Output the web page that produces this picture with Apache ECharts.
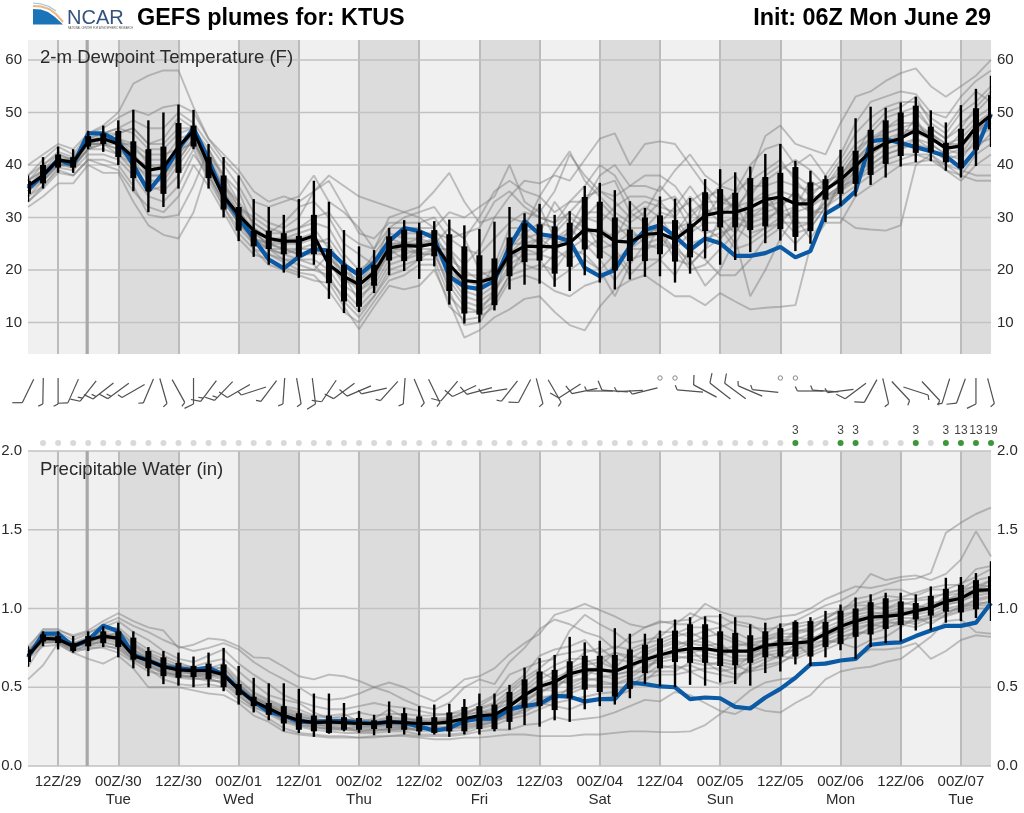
<!DOCTYPE html>
<html><head><meta charset="utf-8"><style>html,body{margin:0;padding:0;background:#fff}#c{width:1024px;height:813px}</style>
<script src="https://cdn.jsdelivr.net/npm/echarts@6/dist/echarts.min.js"></script></head>
<body><div id="c"></div><script>
const tickLabels=['12Z/29','00Z/30\nTue','12Z/30','00Z/01\nWed','12Z/01','00Z/02\nThu','12Z/02','00Z/03\nFri','12Z/03','00Z/04\nSat','12Z/04','00Z/05\nSun','12Z/05','00Z/06\nMon','12Z/06','00Z/07\nTue'];
const dpTicks=[10,20,30,40,50,60];
const pwTicks=[0,0.5,1,1.5,2];
const nightBands=[[6,10],[14,18],[22,26],[30,34],[38,42],[46,50],[54,58],[62,64]];
const initIndex=4;

const dpMedian=[36,38,41,40.5,44.5,45,44,41.5,
39,39.5,43.5,46.5,40,34,30.5,27.5,
26,25.5,25.5,26.5,21,18.8,17.2,19.5,
24.2,24.7,24.5,25,21,18,17.7,18.5,
23,24.5,24.5,24.4,25.2,27.7,27.4,25.5,
25.3,26.8,27,25.8,28,30.4,31,31,
31.9,33.4,33.9,32.6,32.6,35.3,37.2,39.8,
42.6,44.2,45.1,46.6,45.1,43.2,43.6,47.2,
49.5];
const dpControl=[35.5,38,41,40,46,46,44.5,40,
35,38.5,43,47,41,34,30,26,
22,20.3,22.5,24,23.7,21,19,21.4,
25.5,28,27.4,26.1,18.8,16.8,16.4,17.9,
24.5,29.3,26.8,26.4,25.5,20.4,18.8,20,
24.5,27.6,28.5,26.4,23.8,26,25.1,22.7,
22.7,23.2,24.4,22.4,23.6,30.7,32.4,35,
44.5,44.9,44.2,43.4,42.6,41.7,39.4,42.9,
49.7];
const dpHigh=[38,41.5,43.5,43,46.5,47.5,48.5,50.5,
48.5,50,51.5,50.5,44,41.5,38,33.5,
32,30.5,33.5,37,33,27.6,24.5,23.8,
28,29.5,29,29.3,29.6,28.5,27.8,29.2,
32,30.8,32.6,30.5,31.2,36,36.6,35.2,
33.1,31.8,34,33.6,33.7,37.3,39.2,38.6,
39.7,42.1,44,40.8,38.9,38,42.9,48.9,
51.1,50.9,51.9,53,50.4,48.1,51.4,54.5,
57];
const dpLow=[33,35.5,38.5,38.5,43,42.5,40,35,
31,32,35.5,43,35.5,30,25.5,22.5,
21,19.5,18.5,21,14.5,11.8,12,15.6,
19,19.8,18.3,20.7,13.4,9.8,10,12.3,
16.3,17.2,17.4,16.8,16,19,17.6,16.3,
18.2,18.7,18.8,17.6,19.3,22.2,21,21.9,
23.4,25.1,25.6,23.6,25,29.1,32.2,34,
36.2,37.6,39.7,40.5,40.7,38.9,37.6,39.8,
43.4];
const dpQ1=[34.5,36.5,39.5,39.5,43.5,44,41.5,37.5,
35,34.5,38.5,43.5,37.5,31.5,27.5,24.5,
24,23,22.5,23,17.5,14,13,17,
21.8,21.7,21.7,22.6,16,11.7,11.5,13.3,
18.8,21.5,21.8,19.3,20.6,23.9,22.2,19.9,
21.7,21.7,23,21.6,22.4,27.4,28.1,28.1,
27.6,28.3,27.8,26.3,27.4,33.4,34.5,36.4,
38.1,40.2,41.7,42.3,42.4,40.5,39.4,42.9,
46.8];
const dpQ3=[37,40,42,41.5,45.5,46,46.5,44.5,
43,43.5,48,47.5,41.5,38,32,27.5,
27.5,27,26.5,30.5,24,21,20.4,21,
26.4,27.7,27.4,27.6,26.8,24.5,22.8,22.2,
26.2,28.9,28.7,28.3,29,33.9,33,30,
27.7,30,30.4,29.5,28.8,34.8,35.4,34.7,
37.5,37.7,38.5,39.6,36.7,37.3,39.7,42.7,
46.7,48.5,50,51.3,47.3,44.2,46.9,50.8,
53.3];

const dpM1=[40,42,44,43,46,47.5,50,55.5,
57,58,58,51,45,42,39,35,
33,34,33,35,38,36,34,33,
32,31,32,35,38.5,33,29,30,
34,37,36.5,38,37,41,45,46,
40,44,44.5,44,40,36,33,34,
38,45.5,47.5,44,43,42,48,53,
54,56,57.5,58.4,55,53,55,57,
60];
const dpM2=[32,34,36.5,36.5,40,38.5,38.5,33,
28.5,26.7,26,31,40,36,33,24,
21,20,19,18,17.5,13,8.7,13,
17,16.3,17,20,14,7.1,8.5,11,
12.5,14.5,15,12,9.5,8.5,13,16.3,
18,19,17,15,15,13.3,15.6,14,
12.5,12.8,13,13.3,24.5,29,29,34,
36,38,40,40.5,41,39,38,37,
37];
const dpM3=[33,36,39,38,41,41,40,36,
30.5,30,30.5,36,43,38,35,28,
24,23,22,21,18,15,12,15,
19,20,22,24,16,9.5,10,14,
19,20,21,20,24,23,20,15,
21,25,26,24,22,17,20,26,
15,20,26,30,26,30,30,28,
27.7,27.5,28.5,40,42,40,39,38,
38];
const dpM4=[38,41,43.5,42,46,47,49,50.5,
49.5,51,51.5,50,45,41,38,33,
32,33,34,38,33,31,28,24,
30,31,30,28,31,30,32,34,
40,33,31,35,42,38,35,34,
36,36,35,39,42,38,36,35,
40,43,44,40,42,38,42,48,
52,53,54,53.5,50,49,53,56,
58];
const dpM5=[37,40,42.5,41.5,45,46,47,48.5,
47,47,50,48,44,40,36,31,
29,28,30,35,37,32,27,26,
29,29,29,30,26,27,28,33,
35,32,30,29,33,36,40,38,
33,30,33,34,30,33,36,38,
34,38,40,38,36,37,38,42,
47,50,51,53,48,46,50,52,
55];
const dpM6=[36,39,42,41,44,46,46,47,
44,45,49,47,42,38,33,29,
27,29,32,33,30,25,23,21,
28,28,28,28,24,21,24,30,
30,29,32,26,27,30,33,30,
28,28,31,30,26,34,35,31,
36,36,37,36,35,36,40,44,
46,49,50,51,47,45,48,50,
53];
const dpM7=[34,36,39.5,39,42,42,41,38,
34,33,36,42,38,33,29,25,
23,22,21,20,19,14,11,15,
20,21,22,22,15,12,12,16,
20,22,22,18,20,22,20,23,
19,22,22,19,24,22,19,19,
22,26,28,25,28,32,34,36,
38,40,41,42,41,40,38,42,
44];
const dpM8=[35,37,40,40,43,44,43,41,
37,37,41,45,39,34,30,26,
25,24,23,24,22,17,15,17,
22,23,24,24,19,15,14,16,
21,23,23,22,24,26,24,22,
24,24,25,24,27,29,29,30,
29,30,31,30,30,33,35,38,
41,43,44,45,44,42,41,45,
47];
const dpM9=[36,38,41.5,41,44,45,45,43,
41,41,45,46,41,36,31,28,
26,25,25,26,25,20,18,20,
25,25,25,26,23,19,19,20,
26,27,25,24,26,31,31,29,
26,27,28,27,31,33,33,32,
33,34,35,34,33,35,37,40,
43,45,46,47,46,44,45,48,
50];
const dpM10=[35,37.5,40.5,39.5,43,43,42,39,
36,35,38,43,37,32,27,24,
23,21.5,20,20,23,19,14,18,
23,24,23,23,18,14,13,15,
24,21,20,23,28,25,22,18,
22,23,29,29,25,26,27,28,
26,28,29,29,29,34,36,39,
40,42,43,44,43,41,40,43,
46];
const dpM11=[38,40,42,41,45,46,47,46,
43,43,46,47,43,37,32,30,
28,27,28,29,28,23,20,22,
26,27,27,27,26,24,23,26,
29,31,30,29,31,34,35,33,
30,32,30,26,29,31,32,35,
37,39,41,37,34,37,41,46,
49,51,52,52,49,47,51,54,
52];
const dpM12=[33,35.5,38.5,38,41,40,39,35,
32,31,34,40,36,31,26,23,
22,20.5,19.5,19,16,12,10,14,
18,19,21,21,13,10.5,11,13,
18,19,18,16,15,17,18,21,
24,26,27,22,21,24,30,33,
30,32,33,33,31,32,36,37,
39,41,42,42,42,39,37,40,
42];
const dpM13=[37,39,41,40.5,44,44,44,44,
42,42,43,44,40,35,31,27,
25,26,27,28,24,21,19,23,
27,26,26,25,28,26,20,18,
23,26,27,33,29,27,28,26,
31,33,32,31,33,35,30,27,
32,33,31,32,37,35,38,41,
44,46,47,48,45,43,46,49,
51];
const dpM14=[36,38,40,40,43,45,45,42,
39,40,42,45,38,33,29,26,
24,23,24,25,26,22,16,19,
24,22,24,26,21,17,16,21,
28,28,34,31,33,33,38,40,
36,38,38,36,32,28,26,29,
28,29,32,35,32,34,35,39,
42,44,45,49,44,42,43,47,
48];
const dpM15=[35,38,41,41,44,45,46,47,
44,44,47,47,42,36,32,29,
27,27,28,30,31,27,25,24,
28,30,31,32,28,26,30,35,
37,35,34,38.5,42.6,37,34,31,
29,31,36,33,28,30,34,32,
35,37,39,41,39,36,39,43,
45,47,49,50,47,45,47,51,
54];
const dpM16=[36,38.5,41,40.5,44,45,44,42,
38,38,42,46,40,34,29,26,
24,24,23,23,23,18,17,19,
23,25,25,25,20,17,16,18,
22,25,26,26,28,33,36,37,
31,29,27,24,20,21,24,27,
31,32,34,28,29,33,36,41,
44,47,48,48,46,44,44,46,
49];
const dpM17=[34,37,40,39.5,43,44,42,40,
35,36,40,44,38,32,28,25,
24,22,22,22,20,16,13,16,
21,22,23,23,17,13,12,14,
19,24,26,24,22,24,26,24,
20,20,22,25,21,24,26,30,
33,35,30,27,28,32,35,37,
40,42,43,45,43,41,42,44,
45];
const dpM18=[35,38,41,40,44,44,43,40,
38,38,41,45,39,33,29,26,
25,24,24,24,24,19,16,18,
24,24,25,25,22,16,15,17,
25,25,24,27,30,28,26,27,
28,25,24,28,29,27,28,24,
25,27,29,32,34,34,36,40,
42,44,46,46,45,43,44,46,
48];
const dpM19=[37,39,41,41,45,45,44,41,
40,39,44,46,41,35,30,28,
26,26,26,27,21,18,18,21,
25,25,26,27,22,20,18,19,
24,27,29,28,31,29,24,25,
27,26,29,32,36,32,29,25,
30,31,32,35,31,31,37,41,
43,44,45,47,45,43,44,47,
47];
const dpM20=[36,37,40,40,44,44,45,44,
40,40,43,46,40,35,30,27,
25,25,26,26,22,20,17,20,
26,25,23,24,24,18,17,18,
22,24,23,25,26,30,29,32,
34,34,33,30,34,31,31,33,
27,28,30,31,32,35,38,42,
45,46,47,46,46,43,42,46,
50];

const pwMedian=[.70,.81,.805,.76,.80,.825,.81,.70,
.67,.63,.61,.605,.605,.58,.485,.41,
.365,.32,.29,.275,.28,.275,.27,.27,
.28,.275,.27,.27,.28,.30,.32,.325,
.38,.45,.505,.535,.585,.61,.61,.60,
.64,.675,.705,.73,.745,.745,.73,.73,
.73,.765,.775,.78,.79,.84,.885,.92,
.945,.95,.96,.985,1.005,1.045,1.065,1.115,
1.12];
const pwControl=[.69,.84,.84,.76,.80,.89,.855,.705,
.67,.63,.62,.61,.625,.58,.49,.41,
.345,.32,.28,.28,.285,.285,.275,.27,
.28,.275,.25,.225,.24,.285,.30,.30,
.36,.38,.395,.445,.44,.41,.425,.425,
.53,.52,.505,.50,.425,.435,.43,.375,
.365,.435,.49,.56,.645,.65,.67,.68,
.77,.78,.785,.825,.86,.89,.89,.91,
1.035];
const pwHigh=[.76,.855,.855,.825,.855,.887,.91,.855,
.755,.73,.72,.695,.72,.75,.635,.56,
.525,.525,.49,.46,.46,.40,.35,.325,
.41,.37,.38,.39,.395,.425,.46,.46,
.515,.625,.685,.705,.82,.785,.795,.875,
.84,.84,.86,.93,.945,.95,.965,.945,
.90,.91,.905,.925,.945,.985,1.025,1.07,
1.09,1.10,1.10,1.09,1.14,1.195,1.20,1.225,
1.30];
const pwLow=[.63,.76,.74,.72,.73,.755,.69,.62,
.57,.52,.51,.50,.50,.475,.39,.34,
.29,.22,.21,.185,.205,.22,.21,.195,
.21,.20,.195,.20,.185,.20,.20,.22,
.23,.26,.25,.29,.28,.36,.38,.39,
.43,.52,.505,.50,.515,.51,.53,.52,
.51,.59,.60,.645,.635,.69,.735,.68,
.755,.78,.79,.86,.86,.91,.92,.94,
.92];
const pwQ1=[.66,.79,.78,.73,.76,.78,.755,.675,
.62,.57,.56,.565,.55,.50,.45,.38,
.325,.27,.23,.22,.21,.23,.23,.235,
.24,.23,.22,.21,.22,.22,.235,.235,
.28,.37,.38,.355,.43,.485,.47,.44,
.49,.59,.62,.66,.655,.655,.635,.64,
.655,.69,.695,.695,.695,.755,.775,.82,
.835,.87,.895,.93,.955,.98,.975,.995,
1.035];
const pwQ3=[.74,.835,.825,.78,.825,.855,.855,.815,
.73,.69,.655,.635,.65,.645,.52,.44,
.40,.38,.335,.32,.32,.31,.305,.29,
.32,.335,.315,.31,.34,.375,.38,.39,
.47,.55,.60,.61,.665,.70,.70,.705,
.74,.77,.81,.86,.90,.90,.855,.845,
.83,.855,.875,.915,.92,.915,.985,1.0,
1.04,1.065,1.045,1.035,1.08,1.125,1.15,1.18,
1.205];

const pwM1=[.76,.86,.86,.83,.86,.92,.97,.92,
.88,.86,.75,.77,.81,.80,.76,.69,
.685,.63,.57,.55,.58,.57,.54,.50,
.53,.50,.45,.41,.47,.55,.57,.62,
.71,.78,.84,.96,.99,1.03,.99,.95,
.90,.88,.91,.92,.93,1.03,.98,.95,
.95,.93,.95,.96,1.0,1.06,1.10,1.14,
1.13,1.15,1.18,1.19,1.225,1.48,1.545,1.60,
1.64];
const pwM2=[.55,.64,.78,.72,.68,.65,.70,.62,
.50,.50,.50,.48,.46,.45,.40,.32,
.28,.22,.20,.19,.18,.18,.18,.18,
.19,.19,.18,.17,.17,.18,.18,.19,
.20,.20,.19,.19,.19,.20,.20,.21,
.22,.22,.215,.215,.22,.26,.33,.40,
.48,.53,.55,.56,.64,.66,.67,.69,
.74,.74,.75,.78,.68,.73,.80,.83,
.82];
const pwM3=[.72,.84,.85,.80,.84,.90,.94,.89,
.85,.80,.76,.73,.75,.78,.74,.66,
.60,.55,.50,.44,.42,.43,.46,.50,
.47,.42,.38,.36,.40,.50,.55,.52,
.66,.75,.87,.93,.90,.85,.82,.74,
.82,.88,.92,.90,.90,.95,.95,.90,
.88,.87,.88,.92,.97,1.02,1.05,1.10,
1.22,1.18,1.20,1.21,1.18,1.22,1.31,1.49,
1.33];
const pwM4=[.63,.78,.79,.74,.74,.76,.75,.68,
.62,.55,.52,.51,.52,.50,.42,.36,
.30,.24,.21,.20,.19,.19,.18,.19,
.19,.20,.19,.19,.19,.20,.22,.23,
.23,.26,.27,.31,.29,.30,.31,.34,
.38,.42,.41,.47,.45,.40,.35,.33,
.38,.35,.34,.40,.45,.55,.60,.62,
.63,.66,.68,.75,.82,.92,.93,.85,
.84];
const pwM5=[.74,.87,.87,.82,.85,.88,.92,.85,
.80,.73,.68,.66,.70,.74,.65,.58,
.52,.45,.41,.38,.36,.36,.38,.40,
.38,.37,.35,.33,.33,.36,.40,.45,
.58,.62,.66,.68,.86,.96,.90,.85,
.78,.80,.82,.90,.97,.93,.90,.85,
.80,.82,.85,.88,.90,.93,1.0,1.03,
1.05,1.08,1.07,1.10,1.13,1.15,1.15,1.25,
1.27];
const pwM6=[.70,.80,.83,.78,.76,.80,.86,.78,
.72,.68,.64,.63,.66,.68,.60,.52,
.45,.42,.40,.34,.30,.32,.34,.32,
.33,.33,.32,.32,.33,.34,.36,.39,
.42,.48,.55,.60,.64,.72,.75,.68,
.66,.70,.75,.78,.78,.82,.84,.80,
.77,.76,.80,.80,.84,.90,.96,.98,
1.02,1.0,1.02,1.05,1.06,1.10,1.12,1.18,
1.2];
const pwM7=[.68,.76,.77,.72,.75,.75,.72,.66,
.60,.58,.56,.55,.56,.52,.44,.38,
.33,.28,.25,.23,.22,.21,.21,.21,
.22,.22,.20,.20,.20,.21,.24,.26,
.30,.32,.36,.40,.42,.44,.46,.47,
.52,.56,.58,.58,.60,.62,.62,.58,
.60,.62,.65,.72,.75,.78,.80,.82,
.88,.92,.90,.88,.92,.95,.98,1.0,
1.0];
const pwM8=[.71,.82,.81,.76,.78,.83,.82,.72,
.68,.62,.60,.60,.60,.60,.50,.42,
.38,.33,.30,.28,.27,.27,.26,.27,
.27,.27,.26,.26,.27,.28,.30,.32,
.36,.40,.48,.50,.56,.60,.58,.55,
.58,.64,.66,.68,.70,.70,.68,.66,
.68,.72,.74,.76,.78,.84,.86,.90,
.92,.94,.96,.96,.98,1.02,1.05,1.08,
1.10];
const pwM9=[.72,.81,.80,.77,.81,.84,.84,.76,
.70,.66,.62,.58,.56,.62,.52,.44,
.40,.36,.33,.30,.28,.29,.30,.28,
.30,.29,.30,.30,.31,.33,.34,.37,
.46,.54,.60,.55,.52,.56,.64,.72,
.68,.74,.78,.82,.85,.80,.76,.72,
.74,.78,.76,.85,.88,.92,.94,.98,
1.0,1.0,1.04,1.02,1.0,1.08,1.10,1.15,
1.14];
const pwM10=[.69,.79,.79,.73,.77,.79,.76,.68,
.64,.60,.57,.56,.54,.54,.46,.39,
.35,.30,.26,.24,.24,.24,.24,.24,
.25,.24,.24,.23,.24,.26,.27,.30,
.33,.36,.42,.46,.48,.52,.50,.50,
.50,.54,.62,.64,.60,.55,.52,.54,
.64,.68,.70,.68,.72,.76,.82,.85,
.84,.87,.92,.92,.95,.98,1.0,1.06,
1.08];
const pwM11=[.73,.83,.82,.78,.82,.86,.88,.80,
.74,.70,.66,.62,.62,.65,.55,.47,
.42,.38,.36,.32,.32,.33,.28,.30,
.36,.31,.28,.28,.30,.32,.38,.44,
.50,.58,.70,.74,.76,.80,.70,.62,
.72,.76,.85,.85,.82,.86,.88,.92,
.90,.84,.90,.90,.92,.96,.98,1.06,
1.08,1.12,1.12,1.08,1.12,1.12,1.16,1.2,
1.25];
const pwM12=[.70,.80,.80,.75,.79,.81,.79,.70,
.66,.64,.61,.59,.58,.56,.48,.40,
.36,.31,.28,.26,.25,.25,.22,.22,
.24,.25,.22,.22,.22,.23,.25,.28,
.32,.34,.40,.38,.36,.40,.43,.44,
.48,.60,.70,.72,.74,.66,.60,.62,
.70,.72,.68,.78,.70,.74,.78,.75,
.80,.82,.88,.95,.90,.96,1.02,1.02,
1.05];
const pwM13=[.72,.82,.82,.77,.80,.84,.82,.74,
.68,.65,.63,.62,.63,.62,.52,.44,
.39,.35,.32,.29,.29,.28,.28,.28,
.29,.28,.28,.28,.29,.30,.33,.36,
.40,.46,.52,.56,.60,.64,.66,.62,
.62,.68,.72,.76,.80,.78,.74,.76,
.78,.80,.82,.82,.80,.86,.90,.94,
.96,.98,1.0,1.0,1.02,1.06,1.08,1.12,
1.15];
const pwM14=[.70,.80,.81,.76,.79,.82,.80,.72,
.66,.61,.59,.59,.58,.57,.49,.41,
.37,.32,.28,.26,.26,.26,.25,.25,
.26,.26,.25,.25,.25,.26,.28,.31,
.35,.42,.46,.52,.54,.56,.54,.52,
.56,.62,.68,.70,.68,.66,.64,.62,
.66,.70,.72,.74,.76,.80,.84,.88,
.90,.92,.94,.94,.96,1.0,1.02,1.05,
1.07];
const pwM15=[.71,.81,.81,.75,.78,.80,.78,.70,
.65,.60,.58,.57,.58,.58,.50,.43,
.38,.34,.31,.30,.28,.27,.27,.26,
.28,.28,.29,.28,.26,.27,.31,.35,
.44,.50,.58,.64,.68,.68,.62,.58,
.60,.72,.76,.80,.76,.72,.70,.74,
.72,.74,.78,.86,.86,.88,.92,.96,
.98,.96,.98,1.0,1.04,1.04,1.06,1.10,
1.12];
const pwM16=[.73,.82,.82,.77,.79,.83,.83,.74,
.69,.64,.60,.61,.61,.59,.51,.43,
.39,.34,.31,.27,.25,.24,.25,.25,
.27,.26,.27,.27,.28,.31,.35,.33,
.38,.44,.50,.52,.62,.66,.68,.72,
.70,.68,.70,.74,.78,.76,.78,.70,
.70,.76,.80,.78,.82,.82,.88,.92,
.94,.97,.98,.97,1.0,1.05,1.10,1.12,
1.18];
const pwM17=[.69,.78,.79,.75,.78,.78,.77,.69,
.64,.59,.57,.57,.57,.55,.47,.40,
.35,.29,.27,.25,.23,.23,.23,.23,
.23,.23,.23,.24,.23,.25,.26,.28,
.34,.38,.44,.44,.46,.50,.52,.52,
.54,.58,.64,.62,.64,.60,.58,.56,
.62,.64,.66,.70,.74,.78,.82,.84,
.86,.90,.92,.90,.94,.98,1.0,1.04,
1.03];
const pwM18=[.72,.83,.83,.78,.80,.85,.86,.77,
.71,.66,.63,.60,.60,.63,.54,.46,
.41,.37,.34,.31,.31,.30,.29,.29,
.31,.30,.29,.29,.30,.34,.37,.40,
.48,.56,.62,.70,.72,.74,.72,.76,
.74,.78,.80,.84,.88,.88,.82,.78,
.76,.80,.84,.84,.86,.94,.98,1.02,
1.02,1.04,1.06,1.06,1.08,1.09,1.12,1.14,
1.18];
const pwM19=[.70,.80,.80,.76,.80,.81,.81,.73,
.67,.63,.60,.58,.59,.59,.49,.42,
.36,.31,.29,.27,.27,.27,.26,.26,
.26,.25,.26,.27,.27,.29,.29,.29,
.34,.42,.48,.48,.58,.62,.62,.60,
.64,.66,.68,.72,.72,.74,.72,.68,
.68,.74,.76,.78,.80,.82,.86,.91,
.94,.96,.97,.98,1.0,1.03,1.04,1.10,
1.11];
const pwM20=[.71,.79,.78,.74,.76,.77,.74,.67,
.63,.59,.58,.56,.55,.53,.45,.37,
.34,.29,.26,.25,.24,.23,.22,.23,
.23,.24,.23,.24,.25,.24,.26,.29,
.31,.36,.38,.42,.50,.54,.56,.58,
.60,.60,.60,.60,.66,.64,.66,.64,
.60,.66,.70,.74,.78,.80,.78,.86,
.90,.88,.90,.92,.94,.96,.99,1.02,
1.02];

const windDir=[206,181,180,204,218,232,234,240,
203,164,151,180,217,224,240,252,
217,184,170,173,214,234,247,257,
222,184,157,154,220,245,255,261,
218,208,165,150,237,258,270,274,
267,256,0,0,275,298,308,306,
293,276,0,0,270,274,263,233,
209,167,137,108,137,197,200,180,
165];
const windSpeed=[10,5,5,10,15,15,15,5,
5,5,5,10,15,15,10,5,
5,5,5,10,10,10,10,5,
5,5,5,5,10,10,10,5,
5,10,5,5,10,10,5,10,
5,5,0,0,5,10,10,10,
5,5,0,0,5,5,5,10,
10,5,5,5,5,5,10,10,
5];
const precipCount=[null,0,0,0,0,0,0,0,
0,0,0,0,0,0,0,0,
0,0,0,0,0,0,0,0,
0,0,0,0,0,0,0,0,
0,0,0,0,0,0,0,0,
0,0,0,0,0,0,0,0,
0,0,0,3,0,0,3,3,
0,0,0,3,0,3,13,13,
19];

const dpMembers=[dpM1,dpM2,dpM3,dpM4,dpM5,dpM6,dpM7,dpM8,dpM9,dpM10,dpM11,dpM12,dpM13,dpM14,dpM15,dpM16,dpM17,dpM18,dpM19,dpM20];
const pwMembers=[pwM1,pwM2,pwM3,pwM4,pwM5,pwM6,pwM7,pwM8,pwM9,pwM10,pwM11,pwM12,pwM13,pwM14,pwM15,pwM16,pwM17,pwM18,pwM19,pwM20];

const FONT='"Liberation Sans",Arial,sans-serif';
const TXT='#2a2a2a';
const DP_MIN=4,DP_MAX=63.8,DP_STEP=2;
const categories=dpMedian.map(()=>'');
tickLabels.forEach((l,k)=>{categories[2+4*k]=l;});
const isTick=i=>i>=2&&(i-2)%4===0;

function xAxis(gi,labels,visible){return {type:'category',gridIndex:gi,data:categories,boundaryGap:false,show:visible,
 axisLine:{show:false},axisTick:{show:false},
 axisLabel:{show:labels,interval:(i)=>isTick(i),color:TXT,fontFamily:FONT,fontSize:15,lineHeight:18,margin:7},
 splitLine:{show:visible,interval:(i)=>isTick(i),lineStyle:{color:'#bcbcbc',width:2}}};}
function yAxis(gi,pos,min,max,interval,fmt){return {type:'value',gridIndex:gi,position:pos,min,max,interval,
 axisLine:{show:false},axisTick:{show:false},showMinLabel:true,showMaxLabel:true,
 axisLabel:{color:TXT,fontFamily:FONT,fontSize:15,margin:6,padding:[2,0,0,0],formatter:fmt},
 splitLine:{show:false}};}
const fmtDp=v=>dpTicks.includes(v)?String(v):'';
const fmtPw=v=>pwTicks.includes(v)?v.toFixed(1):'';

function bandsSeries(xi,yi,ymin,ymax){return {type:'custom',xAxisIndex:xi,yAxisIndex:yi,z:-1,silent:true,
 data:[[0,64,0]].concat(nightBands.map(b=>[b[0],b[1],1])),encode:{x:[0,1]},
 renderItem:(p,api)=>{const a=api.coord([api.value(0),ymin]),b=api.coord([api.value(1),ymax]);
  return {type:'rect',shape:{x:a[0],y:b[1],width:b[0]-a[0],height:a[1]-b[1]},style:{fill:api.value(2)?'#dcdcdc':'#f0f0f0'}};}};}
function hlineSeries(xi,yi,ticks){return {type:'custom',xAxisIndex:xi,yAxisIndex:yi,z:0,silent:true,
 data:ticks.map(t=>[0,t]),encode:{x:0,y:1},
 renderItem:(p,api)=>{const a=api.coord([0,api.value(1)]),b=api.coord([64,api.value(1)]);
  return {type:'line',shape:{x1:a[0],y1:a[1],x2:b[0],y2:b[1]},style:{stroke:'#c2c2c2',lineWidth:1.6}};}};}
function initSeries(xi,yi,ymin,ymax){return {type:'custom',xAxisIndex:xi,yAxisIndex:yi,z:1,silent:true,
 data:[[initIndex]],encode:{x:0},
 renderItem:(p,api)=>{const a=api.coord([api.value(0),ymin]),b=api.coord([api.value(0),ymax]);
  return {type:'line',shape:{x1:a[0]-1,y1:a[1],x2:b[0]-1,y2:b[1]},style:{stroke:'#a8a8a8',lineWidth:3.2}};}};}
function panel(xi,yi,members,control,median,low,q1,q3,high){
 const out=members.map(m=>({type:'line',xAxisIndex:xi,yAxisIndex:yi,data:m,showSymbol:false,symbol:'none',silent:true,z:2,
   lineStyle:{color:'#7a7a7a',width:1.9,opacity:.45}}));
 out.push({type:'line',xAxisIndex:xi,yAxisIndex:yi,data:control,symbol:'none',silent:true,z:3,lineStyle:{color:'#0b5aa6',width:4.2}});
 out.push({type:'custom',xAxisIndex:xi,yAxisIndex:yi,z:4,silent:true,clip:true,
  data:median.map((_,i)=>[i,low[i],q1[i],q3[i],high[i]]),encode:{x:0,y:[1,2,3,4]},
  renderItem:(p,api)=>{const i=api.value(0);const L=api.coord([i,api.value(1)]),A=api.coord([i,api.value(2)]),B=api.coord([i,api.value(3)]),H=api.coord([i,api.value(4)]);
   return {type:'group',children:[
    {type:'line',shape:{x1:L[0],y1:L[1],x2:H[0],y2:H[1]},style:{stroke:'#000',lineWidth:2.4}},
    {type:'rect',shape:{x:A[0]-3,y:B[1],width:6,height:A[1]-B[1]},style:{fill:'#000'}}]};}});
 out.push({type:'line',xAxisIndex:xi,yAxisIndex:yi,data:median,symbol:'none',silent:true,z:5,lineStyle:{color:'#000',width:3.2}});
 return out;
}

const BARB_ROW=31,CALM_ROW=18,DOT_ROW=83,STEM=13,FEATHER=10,FEATHER_ANGLE=64,FEATHER_GAP=4;
const barbSeries={type:'custom',xAxisIndex:2,yAxisIndex:4,z:3,silent:true,clip:false,
 data:windDir.map((d,i)=>[i,d,windSpeed[i]]),encode:{x:0},
 renderItem:(p,api)=>{
  const i=api.value(0),dir=api.value(1),sp=api.value(2);
  const st={stroke:'#505050',lineWidth:1.2,fill:null};
  if(!sp){const c=api.coord([i,CALM_ROW]);return {type:'circle',shape:{cx:c[0],cy:c[1],r:2.2},style:{stroke:'#888',lineWidth:1,fill:'#fff'}};}
  const c=api.coord([i,BARB_ROW]),r=dir*Math.PI/180,ux=Math.sin(r),uy=-Math.cos(r);
  const fx=c[0]+STEM*ux,fy=c[1]+STEM*uy;
  const kids=[{type:'line',shape:{x1:c[0]-STEM*ux,y1:c[1]-STEM*uy,x2:fx,y2:fy},style:st}];
  const fr=(dir+FEATHER_ANGLE)*Math.PI/180,vx=Math.sin(fr),vy=-Math.cos(fr);
  let left=sp,k=0;
  while(left>=5){const len=left>=10?FEATHER:FEATHER/2;const sx=fx-k*FEATHER_GAP*ux,sy=fy-k*FEATHER_GAP*uy;
   kids.push({type:'line',shape:{x1:sx,y1:sy,x2:sx+len*vx,y2:sy+len*vy},style:st});left-=left>=10?10:5;k++;}
  return {type:'group',children:kids};}};
const dotSeries={type:'scatter',xAxisIndex:2,yAxisIndex:4,z:3,silent:true,clip:false,symbolSize:6,
 data:precipCount.map((n,i)=>n===null?null:[i,DOT_ROW,n]).filter(Boolean),
 itemStyle:{color:p=>p.value[2]>0?'#0a7d0a':'#cfcfcf'},
 label:{show:true,position:'top',distance:3,fontFamily:FONT,fontSize:12,color:'#111',formatter:p=>p.value[2]>0?String(p.value[2]):''}};

const gridBase={left:28,right:33,outerBoundsMode:'none'};
const option={animation:false,backgroundColor:'#fff',
 grid:[{...gridBase,top:40,height:314},{...gridBase,top:451,height:315},{...gridBase,top:360,height:90}],
 xAxis:[xAxis(0,false,true),xAxis(1,true,true),xAxis(2,false,false)],
 yAxis:[yAxis(0,'left',DP_MIN,DP_MAX,DP_STEP,fmtDp),yAxis(0,'right',DP_MIN,DP_MAX,DP_STEP,fmtDp),
  yAxis(1,'left',0,2,0.5,fmtPw),yAxis(1,'right',0,2,0.5,fmtPw),
  {type:'value',gridIndex:2,min:0,max:90,inverse:true,show:false,splitLine:{show:false}}],
 graphic:[
  {type:'polygon',shape:{points:[[33,9],[41,9.5],[48,12],[55,17],[63,24.5],[33,24.5]]},style:{fill:'#1c74b8'}},
  {type:'polyline',shape:{points:[[33,6],[41,6.6],[49,9],[56,14],[63,22]]},style:{stroke:'#efb781',lineWidth:2,fill:null}},
  {type:'polyline',shape:{points:[[33,3],[41,4],[49,6.5],[56,11]]},style:{stroke:'#9cc4dc',lineWidth:1.2,fill:null}},
  {type:'text',left:67,top:8,style:{text:'NCAR',font:'20px '+FONT,fill:'#34527f'}},
  {type:'text',left:68,top:27,style:{text:'NATIONAL CENTER FOR ATMOSPHERIC RESEARCH',font:'2.6px '+FONT,fill:'#555'}},
  {type:'text',left:137,top:7,style:{text:'GEFS plumes for: KTUS',font:'bold 23.4px '+FONT,fill:'#000'}},
  {type:'text',right:33,top:7,style:{text:'Init: 06Z Mon June 29',font:'bold 23.4px '+FONT,fill:'#000',textAlign:'right'}},
  {type:'text',left:40,top:48,z:20,style:{text:'2-m Dewpoint Temperature (F)',font:'18.6px '+FONT,fill:TXT}},
  {type:'text',left:40,top:460,z:20,style:{text:'Precipitable Water (in)',font:'18.6px '+FONT,fill:TXT}}
 ],
 series:[bandsSeries(0,0,DP_MIN,DP_MAX),hlineSeries(0,0,dpTicks),initSeries(0,0,DP_MIN,DP_MAX),
  bandsSeries(1,2,0,2),hlineSeries(1,2,pwTicks),initSeries(1,2,0,2),
  ...panel(0,0,dpMembers,dpControl,dpMedian,dpLow,dpQ1,dpQ3,dpHigh),
  ...panel(1,2,pwMembers,pwControl,pwMedian,pwLow,pwQ1,pwQ3,pwHigh),
  barbSeries,dotSeries]};
const chart=echarts.init(document.getElementById('c'),null,{renderer:'canvas',width:1024,height:813});
chart.setOption(option);
</script></body></html>
